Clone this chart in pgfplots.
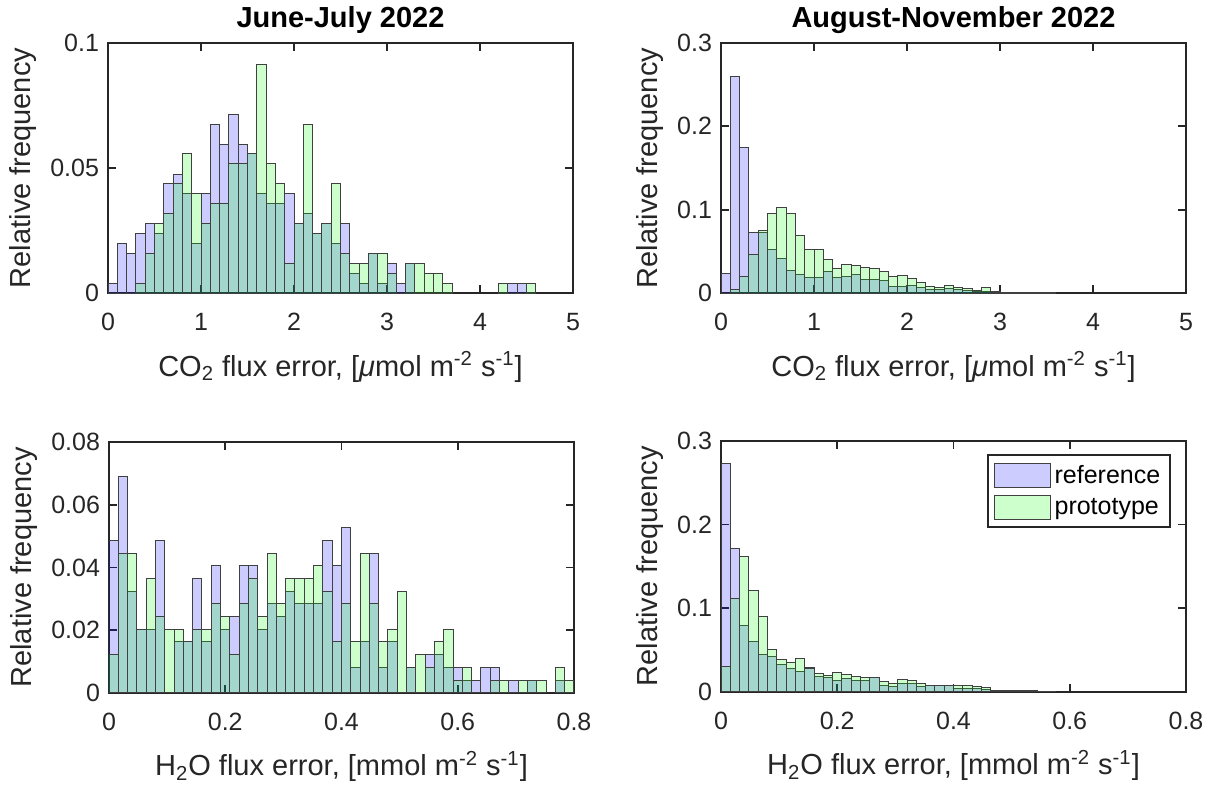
\documentclass[border=0pt]{standalone}
\usepackage{fontspec}
\setmainfont{Liberation Sans}
\usepackage{pgfplots}
\pgfplotsset{compat=1.18}

% histogram counts (bin centres, relative frequency)
\pgfplotstableread{
x y
0.05 0.0040
0.15 0.0198
0.25 0.0159
0.35 0.0238
0.45 0.0278
0.55 0.0238
0.65 0.0437
0.75 0.0476
0.85 0.0397
0.95 0.0198
1.05 0.0397
1.15 0.0675
1.25 0.0595
1.35 0.0714
1.45 0.0595
1.55 0.0556
1.65 0.0397
1.75 0.0357
1.85 0.0357
1.95 0.0397
2.05 0.0278
2.15 0.0317
2.25 0.0238
2.35 0.0278
2.45 0.0198
2.55 0.0278
2.65 0.0079
2.75 0.0040
2.85 0.0159
2.95 0.0040
3.05 0.0119
3.15 0.0040
3.25 0.0119
4.35 0.0040
4.45 0.0040
}\coJJref
\pgfplotstableread{
x y
0.35 0.0040
0.45 0.0159
0.55 0.0278
0.65 0.0317
0.75 0.0437
0.85 0.0556
0.95 0.0397
1.05 0.0278
1.15 0.0357
1.25 0.0357
1.35 0.0516
1.45 0.0516
1.55 0.0556
1.65 0.0913
1.75 0.0516
1.85 0.0437
1.95 0.0119
2.05 0.0278
2.15 0.0675
2.25 0.0238
2.35 0.0278
2.45 0.0437
2.55 0.0159
2.65 0.0119
2.75 0.0119
2.85 0.0159
2.95 0.0159
3.05 0.0079
3.25 0.0119
3.35 0.0119
3.45 0.0079
3.55 0.0079
3.65 0.0040
4.25 0.0040
4.55 0.0040
}\coJJpro
\pgfplotstableread{
x y
0.05 0.024
0.15 0.260
0.25 0.174
0.35 0.073
0.45 0.073
0.55 0.052
0.65 0.042
0.75 0.027
0.85 0.023
0.95 0.019
1.05 0.019
1.15 0.026
1.25 0.019
1.35 0.020
1.45 0.022
1.55 0.016
1.65 0.016
1.75 0.015
1.85 0.008
1.95 0.008
2.05 0.009
2.15 0.007
2.25 0.005
2.35 0.004
2.45 0.006
2.55 0.004
2.65 0.003
2.75 0.002
2.85 0.002
2.95 0.002
3.05 0.001
3.15 0.001
3.25 0.001
3.35 0.001
3.45 0.0005
3.55 0.0005
}\coANref
\pgfplotstableread{
x y
0.15 0.004
0.25 0.020
0.35 0.046
0.45 0.075
0.55 0.096
0.65 0.103
0.75 0.095
0.85 0.069
0.95 0.052
1.05 0.053
1.15 0.040
1.25 0.030
1.35 0.034
1.45 0.033
1.55 0.031
1.65 0.030
1.75 0.026
1.85 0.020
1.95 0.021
2.05 0.018
2.15 0.013
2.25 0.008
2.35 0.007
2.45 0.009
2.55 0.007
2.65 0.006
2.75 0.003
2.85 0.007
2.95 0.001
}\coANpro
\pgfplotstableread{
x y
0.008 0.0487
0.024 0.0690
0.040 0.0324
0.056 0.0201
0.072 0.0201
0.088 0.0487
0.120 0.0163
0.136 0.0163
0.152 0.0366
0.168 0.0163
0.184 0.0405
0.200 0.0201
0.216 0.0243
0.232 0.0405
0.248 0.0405
0.264 0.0201
0.280 0.0284
0.296 0.0243
0.312 0.0324
0.328 0.0284
0.344 0.0284
0.360 0.0284
0.376 0.0487
0.392 0.0405
0.408 0.0527
0.424 0.0080
0.440 0.0163
0.456 0.0444
0.472 0.0080
0.488 0.0163
0.520 0.0080
0.552 0.0121
0.568 0.0121
0.584 0.0080
0.600 0.0080
0.616 0.0040
0.632 0.0040
0.648 0.0080
0.664 0.0080
0.696 0.0040
0.728 0.0040
0.776 0.0040
}\hoJJref
\pgfplotstableread{
x y
0.008 0.0121
0.024 0.0444
0.040 0.0444
0.056 0.0201
0.072 0.0366
0.088 0.0243
0.104 0.0201
0.120 0.0201
0.136 0.0163
0.152 0.0201
0.168 0.0201
0.184 0.0284
0.200 0.0243
0.216 0.0121
0.232 0.0284
0.248 0.0366
0.264 0.0243
0.280 0.0444
0.296 0.0284
0.312 0.0366
0.328 0.0366
0.344 0.0366
0.360 0.0405
0.376 0.0324
0.392 0.0163
0.408 0.0284
0.424 0.0163
0.440 0.0444
0.456 0.0284
0.472 0.0163
0.488 0.0201
0.504 0.0324
0.520 0.0080
0.536 0.0121
0.552 0.0080
0.568 0.0163
0.584 0.0201
0.600 0.0040
0.616 0.0080
0.664 0.0040
0.680 0.0040
0.712 0.0040
0.728 0.0040
0.744 0.0040
0.776 0.0080
0.792 0.0040
}\hoJJpro
\pgfplotstableread{
x y
0.008 0.273
0.024 0.171
0.040 0.079
0.056 0.060
0.072 0.044
0.088 0.042
0.104 0.032
0.120 0.028
0.136 0.024
0.152 0.029
0.168 0.018
0.184 0.017
0.200 0.013
0.216 0.016
0.232 0.014
0.248 0.014
0.264 0.017
0.280 0.008
0.296 0.006
0.312 0.010
0.328 0.010
0.344 0.006
0.360 0.007
0.376 0.007
0.392 0.007
0.408 0.004
0.424 0.004
0.440 0.004
0.456 0.003
0.472 0.002
0.488 0.0015
0.504 0.001
0.520 0.001
0.536 0.001
0.552 0.0005
0.568 0.0005
}\hoANref
\pgfplotstableread{
x y
0.008 0.030
0.024 0.112
0.040 0.162
0.056 0.121
0.072 0.090
0.088 0.051
0.104 0.039
0.120 0.035
0.136 0.040
0.152 0.028
0.168 0.022
0.184 0.019
0.200 0.023
0.216 0.020
0.232 0.018
0.248 0.017
0.264 0.017
0.280 0.012
0.296 0.010
0.312 0.015
0.328 0.014
0.344 0.010
0.360 0.008
0.376 0.008
0.392 0.007
0.408 0.007
0.424 0.008
0.440 0.006
0.456 0.005
0.472 0.001
}\hoANpro

\definecolor{axgray}{RGB}{38,38,38}

\pgfplotsset{
  histax/.style={
    scale only axis, width=232.5pt, height=125.3pt, anchor=south west,
    xmin=0, ymin=0,
    axis line style={axgray, line width=0.9pt},
    tick align=inside, major tick length=4pt,
    tick style={axgray, line width=0.8pt},
    ticklabel style={font=\fontsize{12.5}{14}\selectfont, text=axgray},
    xticklabel style={yshift=-6.5pt},
    yticklabel style={xshift=-1pt},
    /pgf/number format/assume math mode=true,
    scaled y ticks=false,
    yticklabel style={/pgf/number format/fixed},
    label style={font=\fontsize{14.5}{16}\selectfont, text=axgray},
    xlabel style={yshift=-3.5pt},
    title style={font=\bfseries\fontsize{14.5}{16}\selectfont, yshift=-5pt},
    ylabel={Relative frequency},
  },
  refbar/.style={ybar, bar shift=0pt, bar width=#1, fill=blue, fill opacity=0.2,
    draw=black!75, line width=0.5pt,
    legend image code/.code={\draw[##1] (0pt,-6pt) rectangle (28pt,6pt);}},
  probar/.style={ybar, bar shift=0pt, bar width=#1, fill=green, fill opacity=0.2,
    draw=black!75, line width=0.5pt,
    legend image code/.code={\draw[##1] (0pt,-6pt) rectangle (28pt,6pt);}},
}

\newcommand{\coxlabel}{CO\textsubscript{2} flux error, [\textit{μ}mol m\textsuperscript{-2} s\textsuperscript{-1}]}
\newcommand{\hoxlabel}{H\textsubscript{2}O flux error, [mmol m\textsuperscript{-2} s\textsuperscript{-1}]}

\begin{document}
\begin{tikzpicture}
\path[use as bounding box] (0,0) rectangle (609.5pt,396.5pt);

\begin{axis}[histax, at={(54pt,249.85pt)},
  title={June-July 2022}, xlabel={\coxlabel},
  xmax=5, ymax=0.1, xtick={0,1,2,3,4,5}, ytick={0,0.05,0.1}]
\addplot[refbar=0.1] table {\coJJref};
\addplot[probar=0.1] table {\coJJpro};
\end{axis}

\begin{axis}[histax, at={(360.5pt,249.85pt)},
  title={August-November 2022}, xlabel={\coxlabel},
  xmax=5, ymax=0.3, xtick={0,1,2,3,4,5}, ytick={0,0.1,0.2,0.3}]
\addplot[refbar=0.1] table {\coANref};
\addplot[probar=0.1] table {\coANpro};
\end{axis}

\begin{axis}[histax, at={(54.5pt,50.15pt)},
  xlabel={\hoxlabel},
  xmax=0.8, ymax=0.08, xtick={0,0.2,0.4,0.6,0.8}, ytick={0,0.02,0.04,0.06,0.08}]
\addplot[refbar=0.016] table {\hoJJref};
\addplot[probar=0.016] table {\hoJJpro};
\end{axis}

\begin{axis}[histax, at={(360.5pt,50.65pt)},
  xlabel={\hoxlabel},
  xmax=0.8, ymax=0.3, xtick={0,0.2,0.4,0.6,0.8}, ytick={0,0.1,0.2,0.3},
  legend style={at={(0.968,0.948)}, anchor=north east, draw=axgray, line width=0.9pt,
    font=\fontsize{12.5}{14}\selectfont, inner sep=3pt, row sep=2pt},
  legend cell align=left]
\addplot[refbar=0.016] table {\hoANref};
\addplot[probar=0.016] table {\hoANpro};
\legend{reference, prototype}
\end{axis}
\end{tikzpicture}
\end{document}
